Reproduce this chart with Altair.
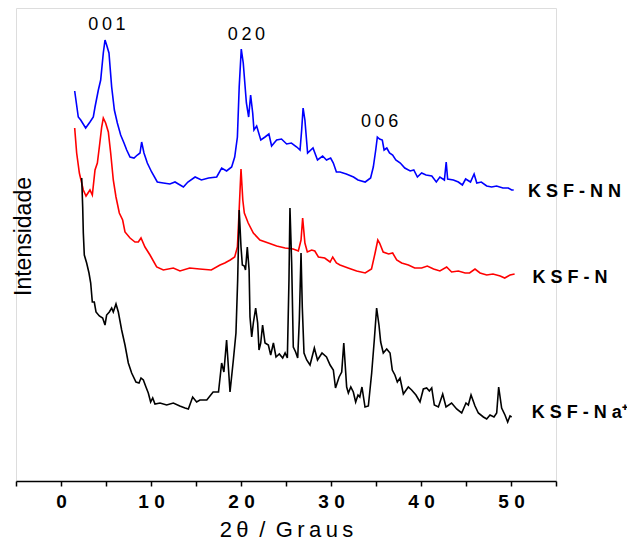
import altair as alt
import pandas as pd

FONT = "Liberation Sans"

# 2-theta (degrees) and intensity (arb. units) for each pattern
nn_x = [1.52, 1.92, 2.19, 2.74, 3.22, 3.59, 3.78, 4.15, 4.41, 4.70, 4.89, 5.07, 5.33, 5.63, 5.93,
        6.26, 6.63, 7.0, 7.3, 7.67, 8.11, 8.48, 8.78, 8.96, 9.22, 9.59, 10.07, 10.7, 11.37, 12.1,
        12.67, 13.04, 13.6, 14.1, 14.9, 15.6, 16.4, 17.3, 17.85, 18.4, 18.96, 19.3, 19.6, 19.8,
        20.03, 20.25, 20.6, 20.85, 21.07, 21.3, 21.44, 21.74, 22.2, 22.67, 23.1, 23.4, 23.96,
        24.5, 25.07, 25.6, 26.2, 26.56, 26.74, 26.9, 27.1, 27.4, 28.0, 28.5, 29.07, 29.5, 29.96,
        30.26, 30.6, 31.0, 31.7, 32.5, 33.0, 33.8, 34.4, 34.7, 34.97, 35.15, 35.4, 35.7, 35.9,
        36.2, 36.5, 36.85, 37.2, 37.7, 38.2, 38.8, 39.2, 39.6, 40.07, 40.56, 41.2, 41.7, 42.1,
        42.6, 42.8, 42.96, 43.6, 44.15, 44.6, 44.96, 45.5, 45.9, 46.2, 46.7, 47.3, 47.85, 48.4,
        49.1, 49.7, 50.07, 50.3]
nn_y = [390, 364, 361, 353, 359, 364, 374, 391, 401, 428, 441, 436, 428, 394, 371,
        358, 346, 338, 331, 324, 323, 326, 328, 339, 328, 318, 309, 299, 298, 297,
        299, 297, 294, 299, 304, 301, 303, 304, 313, 310, 314, 324, 344, 394,
        432, 418, 378, 364, 386, 368, 351, 355, 341, 344, 347, 335, 341,
        342, 337, 338, 334, 331, 351, 373, 361, 328, 333, 321, 325, 321, 323,
        318, 309, 309, 307, 304, 301, 299, 303, 314, 331, 344, 342, 341, 331,
        333, 328, 326, 321, 318, 313, 310, 311, 304, 308, 306, 305, 299, 304,
        301, 319, 302, 301, 299, 296, 302, 299, 307, 298, 299, 295, 294, 295,
        293, 293, 291, 291]

n_x = [1.52, 1.74, 2.04, 2.48, 2.78, 3.22, 3.48, 3.78, 4.04, 4.26, 4.52, 4.70, 4.96, 5.26, 5.52,
       5.81, 6.11, 6.48, 6.85, 7.11, 7.67, 8.22, 8.59, 8.89, 9.33, 9.89, 10.63, 11.37, 12.48,
       13.22, 14.3, 15.4, 16.7, 17.67, 18.2, 18.8, 19.3, 19.6, 19.78, 20.0, 20.2, 20.37, 20.8,
       21.37, 22.1, 23.04, 23.96, 24.9, 25.8, 26.37, 26.67, 26.85, 27.1, 27.37, 27.85, 28.2,
       28.6, 29.3, 29.9, 30.19, 30.6, 31.0, 31.9, 32.85, 33.8, 34.5, 34.9, 35.2, 35.4, 35.8,
       36.4, 36.85, 37.3, 37.85, 38.6, 39.3, 40.07, 40.7, 41.4, 42.1, 42.85, 43.4, 44.15, 44.9,
       45.4, 46.0, 46.56, 47.3, 48.0, 48.8, 49.3, 49.9, 50.4]
n_y = [353, 328, 308, 291, 285, 291, 286, 311, 318, 334, 354, 363, 358, 349, 328,
       301, 284, 268, 261, 249, 243, 239, 239, 243, 234, 226, 214, 211, 213,
       210, 213, 212, 211, 216, 218, 221, 224, 234, 268, 312, 281, 268, 258,
       248, 241, 238, 235, 233, 232, 230, 241, 263, 238, 229, 231, 230,
       224, 223, 219, 224, 218, 216, 213, 210, 208, 212, 228, 241, 238, 229,
       227, 228, 221, 218, 216, 213, 213, 215, 212, 210, 214, 209, 210, 208,
       208, 212, 208, 206, 207, 205, 203, 206, 207]

na_x = [2.3, 2.41, 2.48, 2.59, 2.85, 3.11, 3.3, 3.48, 3.7, 3.89, 4.26, 4.63, 4.89, 5.07, 5.37,
        5.63, 5.81, 6.11, 6.37, 6.74, 7.11, 7.48, 7.85, 8.33, 8.67, 8.89, 9.15, 9.44, 9.7, 9.96,
        10.19, 10.44, 11.0, 11.74, 12.48, 13.2, 13.78, 14.15, 14.63, 15.07, 15.44, 16.2, 16.9,
        17.5, 17.85, 18.1, 18.4, 18.78, 19.15, 19.44, 19.63, 19.8, 20.0, 20.15, 20.37, 20.5,
        20.7, 20.9, 21.0, 21.19, 21.37, 21.63, 21.85, 22.0, 22.19, 22.4, 22.67, 23.04, 23.3,
        23.6, 23.89, 24.26, 24.63, 24.9, 25.15, 25.33, 25.44, 25.63, 25.81, 26.07, 26.3, 26.48,
        26.67, 26.81, 27.0, 27.3, 27.67, 28.15, 28.5, 29.0, 29.5, 29.9, 30.26, 30.5, 30.9,
        31.19, 31.42, 31.74, 31.93, 32.2, 32.48, 32.74, 33.0, 33.2, 33.44, 33.78, 34.15, 34.52,
        34.81, 35.07, 35.33, 35.52, 35.81, 36.19, 36.56, 36.81, 37.1, 37.37, 37.67, 38.04,
        38.59, 38.96, 39.44, 39.89, 40.26, 40.63, 40.93, 41.19, 41.48, 41.93, 42.41, 42.78,
        43.4, 43.96, 44.52, 45.0, 45.26, 45.56, 46.0, 46.37, 46.93, 47.3, 47.67, 48.11, 48.41,
        48.63, 48.96, 49.33, 49.63, 49.89, 50.07]
na_y = [303, 274, 248, 226, 218, 208, 198, 179, 179, 169, 165, 163, 156, 166, 169,
        173, 169, 177, 169, 151, 136, 118, 108, 99, 98, 103, 101, 94, 88, 79,
        83, 77, 78, 76, 78, 75, 73, 72, 84, 79, 81, 81, 89,
        89, 118, 109, 141, 89, 121, 148, 201, 271, 234, 216, 215, 211,
        234, 211, 164, 144, 158, 173, 158, 131, 138, 156, 138, 136, 126,
        138, 124, 127, 123, 128, 123, 201, 273, 218, 134, 129, 123, 161,
        228, 174, 128, 121, 116, 133, 121, 128, 124, 116, 111, 93, 104,
        109, 138, 94, 88, 94, 89, 79, 86, 84, 94, 74, 75, 108,
        141, 173, 156, 139, 128, 132, 128, 111, 106, 99, 103, 87,
        94, 91, 86, 79, 92, 93, 90, 93, 76, 74, 87, 74,
        78, 72, 68, 78, 76, 86, 75, 68, 64, 62, 66, 64, 68,
        94, 73, 66, 59, 65, 64]

series_names = ["KSF-NN", "KSF-N", "KSF-Na+"]
series_colors = ["#0000ff", "#ff0000", "#000000"]

# peak labels (Miller indices)
peak_text = ["0\u20090\u20091", "0\u20092\u20090", "0\u20090\u20096"]
peak_x = [5.1, 20.6, 35.4]
peak_y = [456, 446, 359]

# sample labels
sample_text = ["K S F - N N", "K S F - N", "K S F - N a\u207a"]
sample_x = [51.9, 52.4, 52.3]
sample_y = [289, 203, 68]

rows = []
for name, xs, ys in zip(series_names, [nn_x, n_x, na_x], [nn_y, n_y, na_y]):
    for a, b in zip(xs, ys):
        rows.append({"x": a, "y": b, "sample": name})
lines_df = pd.DataFrame(rows)
peaks_df = pd.DataFrame({"x": peak_x, "y": peak_y, "t": peak_text})
samples_df = pd.DataFrame({"x": sample_x, "y": sample_y, "t": sample_text})

X = alt.X(
    "x:Q",
    scale=alt.Scale(domain=[-5, 55], nice=False, zero=False),
    axis=alt.Axis(
        values=list(range(-5, 56, 5)),
        labelExpr="datum.value % 10 == 0 ? (datum.value == 0 ? '0' : floor(datum.value / 10) + ' 0') : ''",
        labelOverlap=False,
        labelFlush=False,
        grid=False,
        tickSize=5,
        tickWidth=1.5,
        domainWidth=1.5,
        domainColor="#000000",
        tickColor="#000000",
        labelColor="#000000",
        labelFont=FONT,
        labelFontSize=19,
        labelFontWeight="bold",
        labelPadding=6,
        title="2\u2009\u03b8\u2009 /\u2009 G\u2009r\u2009a\u2009u\u2009s",
        titleFont=FONT,
        titleFontSize=22,
        titleFontWeight="normal",
        titleColor="#000000",
        titlePadding=8,
    ),
)
Y = alt.Y(
    "y:Q",
    scale=alt.Scale(domain=[0, 473], nice=False, zero=False),
    axis=alt.Axis(
        domain=False,
        ticks=False,
        labels=False,
        grid=False,
        title="Intensidade",
        titleFont=FONT,
        titleFontSize=23,
        titleFontWeight="normal",
        titleColor="#000000",
        titleAngle=270,
        titleAlign="center",
        titleBaseline="alphabetic",
        titleX=14,
        titleY=228,
    ),
)

lines = alt.Chart(lines_df).mark_line(strokeWidth=1.6, clip=False).encode(
    x=X,
    y=Y,
    color=alt.Color("sample:N", scale=alt.Scale(domain=series_names, range=series_colors), legend=None),
    detail="sample:N",
)

peaks = alt.Chart(peaks_df).mark_text(
    font=FONT, fontSize=18, color="#000000", align="center", baseline="middle"
).encode(x=X, y=Y, text="t:N")

samples = alt.Chart(samples_df).mark_text(
    font=FONT, fontSize=18, fontWeight="bold", color="#000000", align="left", baseline="middle"
).encode(x=X, y=Y, text="t:N")

chart = (
    alt.layer(lines, peaks, samples)
    .properties(
        width=540,
        height=473,
        autosize=alt.AutoSizeParams(type="none"),
        padding={"left": 8, "top": 0, "right": 71, "bottom": 62},
    )
    .configure_view(stroke=None)
    .configure(background="#ffffff")
)

chart.save("out.html", embed_options={"renderer": "svg", "actions": False})
